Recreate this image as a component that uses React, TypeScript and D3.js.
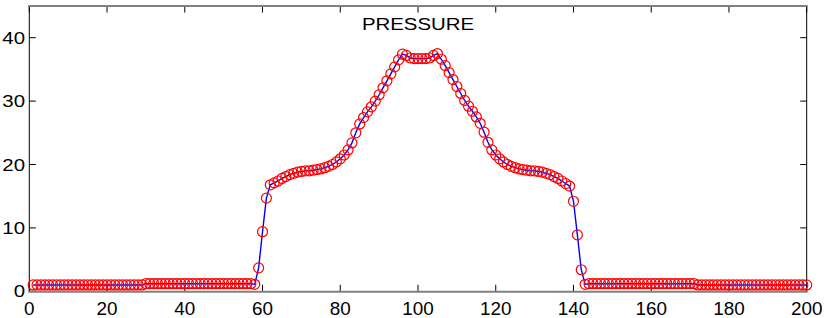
import React from "react";
import * as d3 from "d3";

const title = "PRESSURE";
const xTicks = [0, 20, 40, 60, 80, 100, 120, 140, 160, 180, 200];
const yTicks = [0, 10, 20, 30, 40];

// pressure at grid points x = 1..200
const pressure: number[] = [
  // 1-29
  1.0, 1.0, 1.0, 1.0, 1.0, 1.0, 1.0, 1.0, 1.0, 1.0,
  1.0, 1.0, 1.0, 1.0, 1.0, 1.0, 1.0, 1.0, 1.0, 1.0,
  1.0, 1.0, 1.0, 1.0, 1.0, 1.0, 1.0, 1.0, 1.0,
  // 30-57
  1.2, 1.2, 1.2, 1.2, 1.2, 1.2, 1.2, 1.2, 1.2, 1.2,
  1.2, 1.2, 1.2, 1.2, 1.2, 1.2, 1.2, 1.2, 1.2, 1.2,
  1.2, 1.2, 1.2, 1.2, 1.2, 1.2, 1.2, 1.2,
  // 58-100
  1.1, 3.7, 9.4, 14.7, 16.8, 17.1, 17.4, 17.8, 18.1, 18.4,
  18.6, 18.8, 18.9, 19.0, 19.0, 19.1, 19.2, 19.3, 19.5, 19.7,
  20.0, 20.4, 20.9, 21.5, 22.3, 23.4, 25.0, 26.4, 27.4, 28.3,
  29.1, 30.0, 31.0, 32.1, 33.2, 34.3, 35.4, 36.5, 37.4, 37.2,
  36.8, 36.7, 36.7,
  // 101-143
  36.7, 36.7, 36.8, 37.2, 37.5, 36.6, 35.6, 34.5, 33.4, 32.3,
  31.2, 30.1, 29.2, 28.4, 27.5, 26.5, 25.1, 23.5, 22.3, 21.5,
  20.9, 20.4, 20.0, 19.7, 19.5, 19.3, 19.2, 19.1, 19.0, 19.0,
  18.9, 18.8, 18.6, 18.4, 18.1, 17.8, 17.4, 17.0, 16.6, 14.2,
  8.9, 3.4, 1.1,
  // 144-171
  1.2, 1.2, 1.2, 1.2, 1.2, 1.2, 1.2, 1.2, 1.2, 1.2,
  1.2, 1.2, 1.2, 1.2, 1.2, 1.2, 1.2, 1.2, 1.2, 1.2,
  1.2, 1.2, 1.2, 1.2, 1.2, 1.2, 1.2, 1.2,
  // 172-200
  1.0, 1.0, 1.0, 1.0, 1.0, 1.0, 1.0, 1.0, 1.0, 1.0,
  1.0, 1.0, 1.0, 1.0, 1.0, 1.0, 1.0, 1.0, 1.0, 1.0,
  1.0, 1.0, 1.0, 1.0, 1.0, 1.0, 1.0, 1.0, 1.0,
];
const gridX: number[] = pressure.map((_, i) => i + 1);

const W = 830;
const H = 318;
const L = 29.3, R = 806.7, T = 6, B = 291.3;
const FONT = "'Liberation Sans', Arial, Helvetica, sans-serif";

export default function App() {
  const x = d3.scaleLinear().domain([0, 200]).range([L, R]);
  const y = d3.scaleLinear().domain([0, 45]).range([B, T]);
  const pts = gridX.map((g, i) => [g, pressure[i]] as [number, number]);
  const line = d3.line<[number, number]>().x(d => x(d[0])).y(d => y(d[1]))(pts) || "";
  const tl = 6.5;
  return (
    <svg width={W} height={H} style={{ position: "absolute", left: 0, top: 0, background: "#fff" }}>
      <rect x={0} y={0} width={W} height={H} fill="#fff" />
      {/* ticks */}
      {xTicks.map(t => (
        <g key={"xt" + t}>
          <line x1={x(t)} x2={x(t)} y1={B} y2={B - tl} stroke="#000" strokeWidth={1} />
          <line x1={x(t)} x2={x(t)} y1={T} y2={T + tl} stroke="#000" strokeWidth={1} />
          <text x={x(t)} y={315} textAnchor="middle" fontFamily={FONT} fontSize={18}
            transform={`translate(${x(t)},0) scale(1.05,1) translate(${-x(t)},0)`}>{t}</text>
        </g>
      ))}
      {yTicks.map(t => (
        <g key={"yt" + t}>
          <line x1={L} x2={L + tl} y1={y(t)} y2={y(t)} stroke="#000" strokeWidth={1} />
          <line x1={R} x2={R - tl} y1={y(t)} y2={y(t)} stroke="#000" strokeWidth={1} />
          <text x={25} y={y(t)} dy="0.36em" textAnchor="end" fontFamily={FONT} fontSize={17}
            transform={`translate(25,0) scale(1.2,1) translate(-25,0)`}>{t}</text>
        </g>
      ))}
      {/* frame */}
      <line x1={L} x2={L} y1={T} y2={B} stroke="#000" strokeWidth={1} />
      <line x1={R} x2={R} y1={T} y2={B} stroke="#000" strokeWidth={1} />
      <line x1={L - 1} x2={R + 1} y1={T} y2={T} stroke="#808080" strokeWidth={2} />
      <line x1={L - 1} x2={R + 1} y1={B + 0.5} y2={B + 0.5} stroke="#808080" strokeWidth={2} />
      {/* data */}
      <path d={line} fill="none" stroke="#0000ff" strokeWidth={1.4} />
      {pts.map((d, i) => (
        <circle key={i} cx={x(d[0])} cy={y(d[1])} r={5} fill="none" stroke="#ff0000" strokeWidth={1.2} />
      ))}
      <text x={418} y={30} textAnchor="middle" fontFamily={FONT} fontSize={17}
        transform={`translate(418,0) scale(1.2,1) translate(-418,0)`}>{title}</text>
    </svg>
  );
}
